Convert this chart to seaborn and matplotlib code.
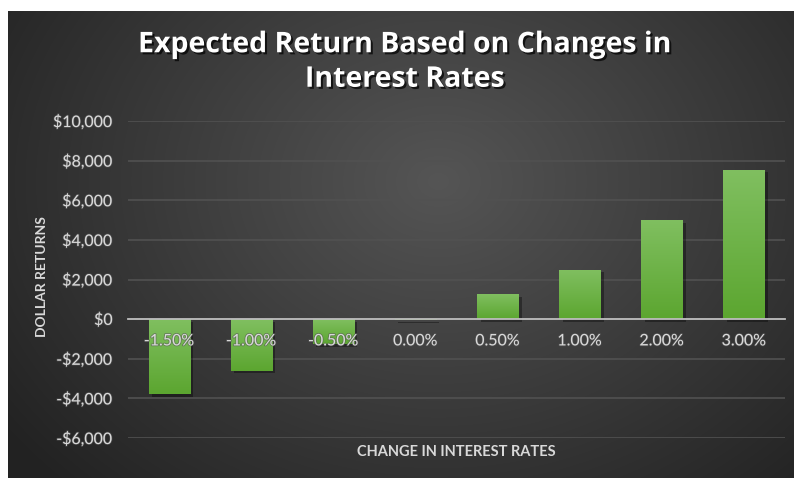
import numpy as np
import pandas as pd
import matplotlib
matplotlib.use("Agg")
import matplotlib.pyplot as plt
import matplotlib.patheffects as pe
from matplotlib.ticker import FuncFormatter
from matplotlib.colors import LinearSegmentedColormap
import seaborn as sns

# ---- data ----
categories = ["-1.50%", "-1.00%", "-0.50%", "0.00%", "0.50%", "1.00%", "2.00%", "3.00%"]
returns = [-3800, -2600, -1250, -50, 1250, 2500, 5000, 7550]
y_ticks = [-6000, -4000, -2000, 0, 2000, 4000, 6000, 8000, 10000]
title = "Expected Return Based on Changes in\nInterest Rates"
x_label = "CHANGE IN INTEREST RATES"
y_label = "DOLLAR RETURNS"

df = pd.DataFrame({"rate": categories, "ret": returns})

sns.set_theme(style="white")
plt.rcParams["font.family"] = ["Lato", "DejaVu Sans"]

W, H = 794, 478
fig = plt.figure(figsize=(W / 100, H / 100), dpi=100)
fig.patch.set_facecolor("white")

# background panel with radial gradient
bg = fig.add_axes([8 / W, 0, 1 - 8 / W, 1 - 11 / H], zorder=0)
bw, bh = 786, 467
yy, xx = np.mgrid[0:bh, 0:bw]
d = np.sqrt(((xx - 430) / 540.0) ** 2 + ((yy - 170) / 430.0) ** 2)
d = np.clip(d, 0, 1)
inner = np.array([0x55, 0x55, 0x55]) / 255
outer = np.array([0x22, 0x22, 0x22]) / 255
img = inner[None, None, :] * (1 - d[..., None]) + outer[None, None, :] * d[..., None]
bg.imshow(img, aspect="auto", extent=[0, 1, 0, 1], origin="upper")
bg.set_axis_off()

# main axes
left, right = 128 / W, 785 / W
bottom, top = 1 - 438 / H, 1 - 121 / H
ax = fig.add_axes([left, bottom, right - left, top - bottom], zorder=1)
ax.patch.set_alpha(0)

sns.barplot(data=df, x="rate", y="ret", color="#68b13c", width=0.5,
            saturation=1, ax=ax, zorder=3)

ax.set_ylim(-6000, 10000)
ax.set_xlim(-0.5, len(categories) - 0.5)

green_cmap = LinearSegmentedColormap.from_list("g", ["#80bf60", "#5ca630"])
grad = np.linspace(0, 1, 64).reshape(-1, 1)
for p in list(ax.patches):
    p.set_edgecolor("none")
    p.set_path_effects([pe.SimplePatchShadow(offset=(2.5, -2), shadow_rgbFace="black", alpha=0.35), pe.Normal()])
    x0, y0 = p.get_x(), p.get_y()
    w, h = p.get_width(), p.get_height()
    ylo, yhi = min(y0, y0 + h), max(y0, y0 + h)
    im = ax.imshow(grad, cmap=green_cmap, aspect="auto", origin="upper",
                   extent=[x0, x0 + w, ylo, yhi], zorder=3.5)
    im.set_clip_path(p)

ax.set_ylim(-6000, 10000)
ax.set_xlim(-0.5, len(categories) - 0.5)
ax.set_aspect("auto")
ax.set_yticks(y_ticks)
ax.yaxis.set_major_formatter(FuncFormatter(lambda v, _: ("-" if v < 0 else "") + "${:,.0f}".format(abs(v))))
ax.grid(axis="y", color="#515151", linewidth=1.2, zorder=0)
ax.set_axisbelow(True)

for s in ["top", "right", "left"]:
    ax.spines[s].set_visible(False)
ax.spines["bottom"].set_position(("data", 0))
ax.spines["bottom"].set_color("#bdbdbd")
ax.spines["bottom"].set_linewidth(1.3)
ax.spines["bottom"].set_zorder(4)

ax.tick_params(axis="both", length=0, colors="#d9d9d9", labelsize=11.5)
ax.tick_params(axis="y", pad=11)
ax.tick_params(axis="x", pad=11)
ax.xaxis.set_zorder(6)
for t in ax.get_xticklabels() + ax.get_yticklabels():
    t.set_color("#d9d9d9")
    t.set_path_effects([pe.withStroke(linewidth=1.2, foreground="#555555", alpha=0.6)])

ax.set_xlabel("")
ax.set_ylabel("")

fig.text(456 / W, 1 - 452 / H, x_label, ha="center", va="center",
         color="#d9d9d9", fontsize=10.5, fontweight="bold")
fig.text(42 / W, 1 - 277 / H, y_label, ha="center", va="center", rotation=90,
         color="#d9d9d9", fontsize=10, fontweight="bold")

fig.text(405 / W, 1 - 62 / H, title, ha="center", va="center", color="white",
         fontsize=20.5, fontweight="bold", linespacing=1.25, family=["Open Sans", "DejaVu Sans"],
         path_effects=[pe.withSimplePatchShadow(offset=(1.5, -1.5), shadow_rgbFace="black", alpha=0.7)])

fig.savefig("out.png", dpi=100, facecolor="white")
